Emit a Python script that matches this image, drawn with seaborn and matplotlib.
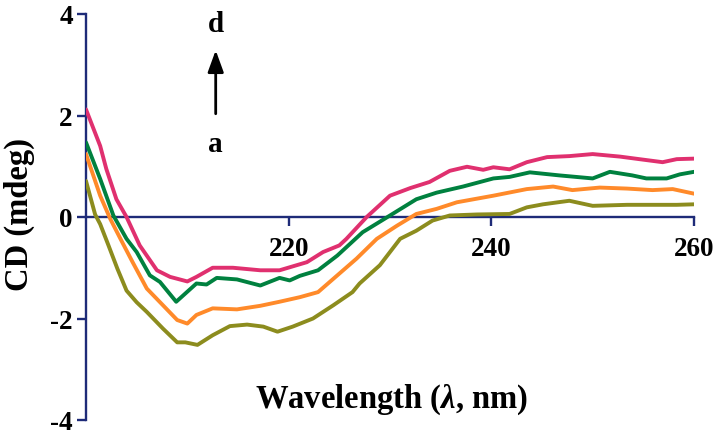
import matplotlib
matplotlib.use("Agg")
import matplotlib.pyplot as plt
import seaborn as sns
import pandas as pd

# ---- data ----
wl_d = [200, 201.4, 202.0, 203.0, 204.0, 205.3, 207.0, 208.3, 210.0, 210.9, 212.5, 214.5, 217.2, 219.1,
        221.8, 223.4, 225.0, 225.7, 227.7, 230.0, 232.0, 233.9, 235.9, 237.6, 239.2, 240.2, 241.8,
        243.5, 245.5, 247.7, 250.0, 252.7, 254.6, 256.9, 258.3, 260]
cd_d = [2.12, 1.40, 0.95, 0.35, 0.0, -0.56, -1.05, -1.18, -1.27, -1.18, -1.0, -1.0, -1.05, -1.05,
        -0.89, -0.69, -0.56, -0.43, 0.0, 0.42, 0.57, 0.69, 0.91, 0.99, 0.93, 0.98, 0.94,
        1.08, 1.18, 1.2, 1.24, 1.19, 1.14, 1.08, 1.14, 1.15]

wl_c = [200, 201.4, 202.7, 204.0, 205.0, 206.3, 207.3, 208.9, 210.9, 211.9, 212.9, 214.9, 217.2, 219.1,
        220.1, 221.1, 222.9, 224.8, 227.3, 230.0, 232.6, 234.6, 237.2, 240.2, 241.8, 243.8, 246.7,
        250.0, 251.7, 253.9, 255.3, 257.3, 258.6, 260]
cd_c = [1.47, 0.75, 0.03, -0.43, -0.69, -1.15, -1.28, -1.67, -1.31, -1.33, -1.2, -1.23, -1.35, -1.2,
        -1.25, -1.16, -1.05, -0.76, -0.3, 0.03, 0.35, 0.48, 0.6, 0.76, 0.79, 0.88, 0.82,
        0.76, 0.89, 0.82, 0.76, 0.76, 0.84, 0.89]

wl_b = [200, 201.4, 202.4, 203.4, 204.6, 206.0, 207.6, 209.0, 210.0, 210.9, 212.5, 214.9, 217.2, 219.1,
        221.1, 222.9, 224.8, 226.7, 228.7, 230.7, 232.6, 234.6, 236.6, 240.2, 243.5, 246.1, 248.0,
        250.7, 253.4, 255.9, 257.9, 260]
cd_b = [1.24, 0.42, -0.04, -0.43, -0.89, -1.41, -1.74, -2.03, -2.1, -1.93, -1.8, -1.82, -1.75, -1.67,
        -1.58, -1.48, -1.15, -0.82, -0.43, -0.17, 0.06, 0.16, 0.29, 0.42, 0.55, 0.6, 0.53,
        0.58, 0.56, 0.53, 0.55, 0.46]

wl_a = [200, 200.9, 201.4, 202.2, 203.1, 204.0, 205.0, 206.0, 207.6, 209.0, 209.8, 211.0, 212.5, 214.2,
        215.9, 217.5, 218.9, 220.4, 222.4, 224.4, 226.3, 227.0, 229.0, 231.0, 232.6, 234.2, 235.9,
        238.6, 241.8, 243.5, 245.1, 247.7, 250.0, 253.4, 256.6, 258.3, 260]
cd_a = [0.71, 0.05, -0.14, -0.55, -1.02, -1.45, -1.68, -1.87, -2.2, -2.47, -2.47, -2.52, -2.33, -2.15,
        -2.12, -2.16, -2.26, -2.16, -2.0, -1.74, -1.48, -1.31, -0.95, -0.43, -0.27, -0.07, 0.03,
        0.05, 0.06, 0.19, 0.25, 0.32, 0.22, 0.24, 0.24, 0.24, 0.25]

series = ["a", "b", "c", "d"]
colors = ["#8C8C1E", "#FF8A2A", "#00813F", "#E0306F"]
x_ticks = [220, 240, 260]
y_ticks = [-4, -2, 0, 2, 4]

sns.set_theme(style="white")
plt.rcParams["font.family"] = ["Liberation Serif", "DejaVu Serif"]
plt.rcParams["font.weight"] = "bold"
plt.rcParams["text.color"] = "black"
plt.rcParams["mathtext.fontset"] = "custom"
plt.rcParams["mathtext.it"] = "Liberation Serif:italic:bold"
plt.rcParams["mathtext.rm"] = "Liberation Serif:bold"

fig = plt.figure(figsize=(7.2, 4.35), dpi=100)
ax = fig.add_axes([86 / 720, 1 - 421 / 435, (694 - 86) / 720, (421 - 15) / 435])

data = {"a": (wl_a, cd_a), "b": (wl_b, cd_b), "c": (wl_c, cd_c), "d": (wl_d, cd_d)}
for name, col in zip(series, colors):
    xs, ys = data[name]
    df = pd.DataFrame({"wl": xs, "cd": ys})
    sns.lineplot(data=df, x="wl", y="cd", ax=ax, color=col, linewidth=2.8, sort=False)

spine_col = "#1E2B78"
ax.set_xlim(200, 260)
ax.set_ylim(-4, 4)
ax.spines["left"].set_position(("data", 200))
ax.spines["bottom"].set_position(("data", 0))
ax.spines["top"].set_visible(False)
ax.spines["right"].set_visible(False)
for s in ["left", "bottom"]:
    ax.spines[s].set_color(spine_col)
    ax.spines[s].set_linewidth(1.7)
    ax.spines[s].set_zorder(1)

ax.set_xticks(x_ticks)
ax.set_yticks(y_ticks)
ax.set_xticklabels([str(t) for t in x_ticks])
ax.set_yticklabels([str(t) for t in y_ticks])
ax.tick_params(axis="both", direction="out", length=6.5, width=1.7, color=spine_col,
               labelsize=19.5, labelcolor="black", pad=3, left=True, bottom=True)
ax.tick_params(axis="x", pad=7)
for lbl in ax.get_xticklabels() + ax.get_yticklabels():
    lbl.set_fontweight("bold")
ax.set_xlabel("")
ax.set_ylabel("")

ax.text(0.503, 0.052, r"Wavelength ($\lambda$, nm)", transform=ax.transAxes, ha="center",
        va="center", fontsize=23.5, fontweight="bold")
fig.text(19 / 720, 1 - 215 / 435, "CD (mdeg)", rotation=90, ha="center", va="center",
         fontsize=23.5, fontweight="bold")

# arrow a -> d
ax.annotate("", xy=(212.8, 3.34), xytext=(212.8, 1.98),
            arrowprops=dict(arrowstyle="-|>,head_width=0.4,head_length=1.1", color="black", lw=2.0))
ax.text(212.8, 1.44, "a", ha="center", va="center", fontsize=21, fontweight="bold")
ax.text(212.8, 3.82, "d", ha="center", va="center", fontsize=21, fontweight="bold")

ax.set_facecolor("white")
fig.savefig("out.png", dpi=100, facecolor="white")
